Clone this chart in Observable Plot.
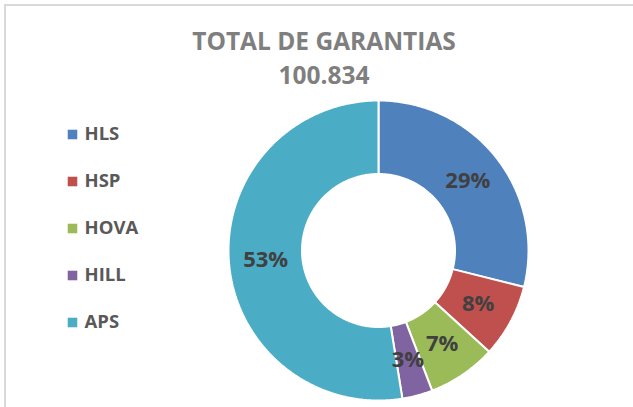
<!DOCTYPE html>
<html><head><meta charset="utf-8">
<script src="https://cdn.jsdelivr.net/npm/d3@7"></script>
<script src="https://cdn.jsdelivr.net/npm/@observablehq/plot@0.6"></script>
<style>
body{margin:0;background:#fff;}
#wrap{position:relative;width:633px;height:407px;overflow:hidden;font-family:"Open Sans",sans-serif;background:#fff;}
#frame{position:absolute;left:4px;top:4px;right:0;bottom:0;border-top:2px solid #d9d9d9;border-left:2px solid #d9d9d9;}
#wrap svg{position:absolute;left:0;top:0;}
</style></head><body><div id="wrap"><div id="frame"></div></div>
<script>
const categories = ["HLS", "HSP", "HOVA", "HILL", "APS"];
const values = [29150, 7950, 7450, 3300, 52984];
const colors = ["#4f81bd", "#c0504d", "#9bbb59", "#8064a2", "#4bacc6"];
const titleText = "TOTAL DE GARANTIAS";
const totalLabel = "100.834";

const data = categories.map((c, i) => ({category: c, value: values[i]}));
const total = d3.sum(values);
const arcs = d3.pie().sort(null).value(d => d.value)(data);
const inner = 0.51, outer = 1;
const poly = [];
for (const a of arcs) {
  const n = Math.max(8, Math.ceil((a.endAngle - a.startAngle) / 0.01));
  const pts = [];
  for (let k = 0; k <= n; k++) {
    const t = a.startAngle + (a.endAngle - a.startAngle) * k / n;
    pts.push([outer * Math.sin(t), outer * Math.cos(t)]);
  }
  for (let k = n; k >= 0; k--) {
    const t = a.startAngle + (a.endAngle - a.startAngle) * k / n;
    pts.push([inner * Math.sin(t), inner * Math.cos(t)]);
  }
  pts.push(pts[0]);
  pts.forEach(p => poly.push({category: a.data.category, x: p[0], y: p[1]}));
}
const labels = arcs.map(a => {
  const m = (a.startAngle + a.endAngle) / 2, r = (inner + outer) / 2;
  return {x: r * Math.sin(m), y: r * Math.cos(m), text: Math.round(a.value / total * 100) + "%"};
});

const font = {fontFamily: "'Open Sans', sans-serif"};

const main = Plot.plot({
  width: 633, height: 407, margin: 0,
  style: {background: "transparent", ...font},
  x: {domain: [-1, 1], range: [228, 528], axis: null},
  y: {domain: [-1, 1], range: [400, 100], axis: null},
  color: {domain: categories, range: colors},
  marks: [
    Plot.line(poly, {x: "x", y: "y", z: "category", fill: "category", stroke: "white", strokeWidth: 2, strokeLinejoin: "miter"}),
    Plot.text(labels, {x: "x", y: "y", text: "text", fontSize: 22, fontWeight: 700, fill: "#404040"}),
    Plot.text([titleText], {frameAnchor: "top", dx: 7, dy: 49, lineAnchor: "bottom", fontSize: 24.5, fontWeight: 700, fill: "#7f7f7f"}),
    Plot.text([totalLabel], {frameAnchor: "top", dx: 7, dy: 83, lineAnchor: "bottom", fontSize: 24.5, fontWeight: 700, fill: "#7f7f7f"})
  ]
});

const legend = Plot.plot({
  width: 200, height: 407, margin: 0,
  style: {background: "transparent", ...font},
  y: {type: "point", domain: categories, range: [132, 323], padding: 0, axis: null},
  color: {domain: categories, range: colors},
  marks: [
    Plot.dot(categories, {y: d => d, frameAnchor: "left", dx: 72, symbol: "square", r: 5.4, fill: d => d}),
    Plot.text(categories, {y: d => d, frameAnchor: "left", dx: 84, textAnchor: "start", fontSize: 18.5, fontWeight: 700, fill: "#595959"})
  ]
});

const wrap = document.getElementById("wrap");
wrap.appendChild(main);
wrap.appendChild(legend);
</script>
</body></html>
